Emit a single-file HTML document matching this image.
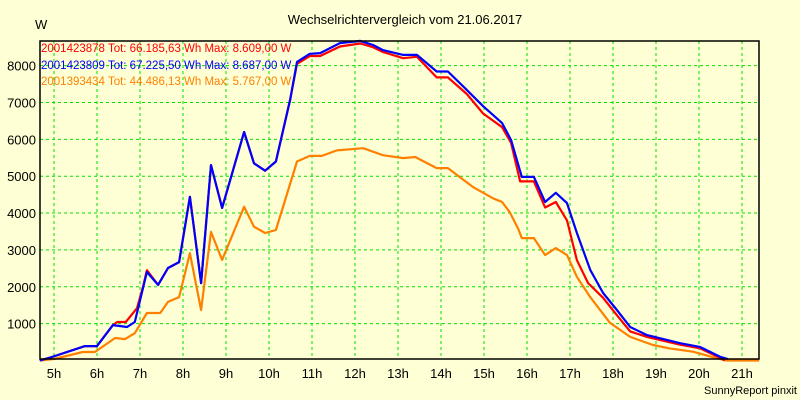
<!DOCTYPE html>
<html><head><meta charset="utf-8"><style>
html,body{margin:0;padding:0;background:#ffffd5;}
svg{display:block;font-family:"Liberation Sans",sans-serif;}
</style></head><body>
<svg id="chart" width="800" height="400" viewBox="0 0 800 400" xmlns="http://www.w3.org/2000/svg">
<rect x="0" y="0" width="800" height="400" fill="#ffffd5"/>
<text x="405" y="24" font-size="13" text-anchor="middle" fill="#000">Wechselrichtervergleich vom 21.06.2017</text>
<text x="35" y="29" font-size="13" fill="#000">W</text>
<text x="797" y="394" font-size="11" text-anchor="end" fill="#000">SunnyReport pinxit</text>
<g id="grid"></g>
<g id="ticks"></g>
<g id="series"></g>
<rect x="40" y="41" width="719" height="318" fill="none" stroke="#000" stroke-width="1.5"/>
<g font-size="11.5">
<text x="41" y="52" fill="#ff0000">2001423878 Tot: 66.185,63 Wh Max: 8.609,00 W</text>
<text x="41" y="69" fill="#0000ff">2001423809 Tot: 67.225,50 Wh Max: 8.687,00 W</text>
<text x="41" y="85" fill="#ff8000">2001393434 Tot: 44.486,13 Wh Max: 5.767,00 W</text>
</g>
</svg>
<script>
const hourTicks = [5,6,7,8,9,10,11,12,13,14,15,16,17,18,19,20,21];
const valueTicks = [1000,2000,3000,4000,5000,6000,7000,8000];
const orangeHours = [4.67,5.0,5.67,5.95,6.42,6.65,6.88,7.16,7.47,7.65,7.91,8.16,8.42,8.65,8.91,9.42,9.65,9.91,10.16,10.65,10.95,11.23,11.58,12.19,12.65,13.12,13.4,13.9,14.16,14.74,15.21,15.42,15.6,15.8,15.88,16.16,16.42,16.67,16.93,17.16,17.47,17.93,18.4,18.93,19.3,19.86,20.42,20.65,21.4];
const orangeValues = [0,40,230,230,610,580,740,1290,1290,1590,1720,2910,1370,3490,2730,4170,3630,3460,3540,5400,5550,5550,5700,5760,5570,5490,5520,5220,5220,4710,4400,4300,4020,3560,3320,3320,2860,3050,2860,2270,1720,1020,640,420,330,240,60,0,0];
const redHours = [4.67,4.95,5.72,6.0,6.37,6.47,6.67,6.93,7.07,7.16,7.42,7.65,7.91,8.16,8.42,8.65,8.91,9.42,9.65,9.91,10.16,10.49,10.65,10.95,11.19,11.65,12.12,12.42,12.65,13.12,13.44,13.9,14.16,14.6,14.98,15.42,15.63,15.84,16.16,16.42,16.67,16.93,17.16,17.42,17.77,18.09,18.4,18.79,19.56,20.02,20.49,20.6];
const redValues = [0,95,390,390,960,1045,1045,1420,2000,2450,2050,2510,2670,4440,2100,5300,4140,6200,5350,5150,5400,7070,8050,8260,8260,8520,8600,8500,8370,8200,8240,7680,7680,7230,6700,6330,5900,4860,4860,4150,4300,3800,2720,2100,1700,1230,790,640,430,330,70,0];
const blueHours = [4.67,4.95,5.72,6.0,6.37,6.7,6.88,7.16,7.42,7.65,7.91,8.16,8.42,8.65,8.91,9.42,9.65,9.91,10.16,10.49,10.65,10.95,11.19,11.65,12.12,12.42,12.65,13.12,13.44,13.9,14.16,14.6,14.98,15.42,15.63,15.88,16.16,16.42,16.67,16.93,17.16,17.47,17.77,18.09,18.4,18.79,19.56,20.02,20.49,20.67];
const blueValues = [0,95,390,390,960,910,1045,2400,2050,2510,2670,4440,2100,5300,4140,6200,5350,5150,5400,7070,8100,8320,8340,8610,8670,8560,8420,8290,8290,7840,7840,7340,6900,6440,5980,4980,4980,4300,4550,4270,3460,2460,1830,1370,910,690,470,370,100,40];

const NS = 'http://www.w3.org/2000/svg';
function xScale(h){ return 54 + (h - 5) * 43; }
function yScale(v){ return 360.5 - v * 0.03686; }
const grid = document.getElementById('grid');
const ticks = document.getElementById('ticks');
hourTicks.forEach(h => {
  const x = xScale(h);
  const l = document.createElementNS(NS,'line');
  
  
  l.setAttribute('x1', x); l.setAttribute('x2', x);
  l.setAttribute('y1', 41); l.setAttribute('y2', 359);
  l.setAttribute('stroke', '#00e000'); l.setAttribute('stroke-dasharray', '3,3');
  grid.appendChild(l);
  const t = document.createElementNS(NS,'text');
  
  
  t.setAttribute('x', x); t.setAttribute('y', 378);
  t.setAttribute('font-size', '13'); t.setAttribute('text-anchor', 'middle');
  t.textContent = h + 'h';
  ticks.appendChild(t);
});
valueTicks.forEach(v => {
  const y = yScale(v);
  const l = document.createElementNS(NS,'line');
  
  
  l.setAttribute('x1', 40); l.setAttribute('x2', 759);
  l.setAttribute('y1', y); l.setAttribute('y2', y);
  l.setAttribute('stroke', '#00e000'); l.setAttribute('stroke-dasharray', '3,3');
  grid.appendChild(l);
  const t = document.createElementNS(NS,'text');
  
  
  t.setAttribute('x', 36); t.setAttribute('y', y + 5);
  t.setAttribute('font-size', '13'); t.setAttribute('text-anchor', 'end');
  t.textContent = v;
  ticks.appendChild(t);
});
const series = document.getElementById('series');
function drawLine(hours, values, color, name){
  const p = document.createElementNS(NS,'polyline');
  
  
  p.setAttribute('points', hours.map((h,i) => xScale(h).toFixed(1) + ',' + yScale(values[i]).toFixed(1)).join(' '));
  p.setAttribute('fill', 'none'); p.setAttribute('stroke', color);
  p.setAttribute('stroke-width', '2.2'); p.setAttribute('stroke-linejoin', 'round');
  series.appendChild(p);
}
drawLine(orangeHours, orangeValues, '#ff8000', 'series-2001393434');
drawLine(redHours, redValues, '#ff0000', 'series-2001423878');
drawLine(blueHours, blueValues, '#0000ff', 'series-2001423809');
</script>
</body></html>
